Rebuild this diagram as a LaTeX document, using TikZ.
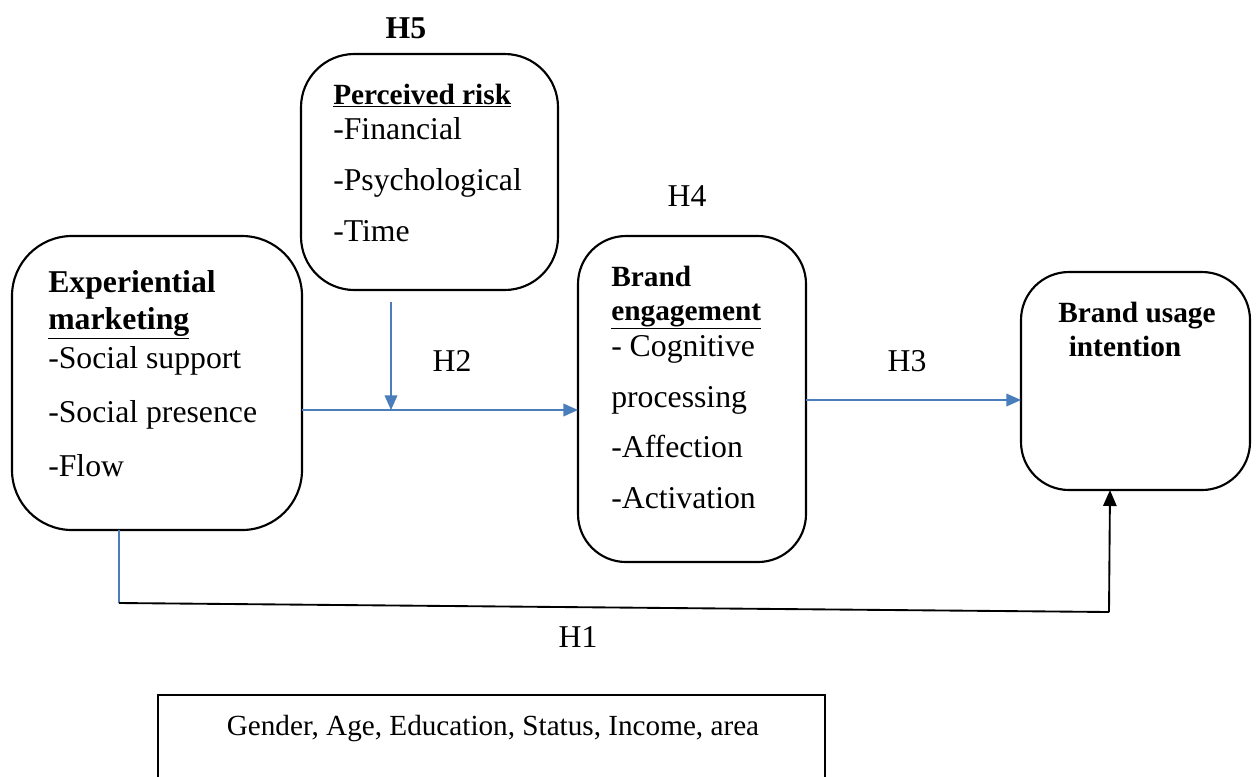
\documentclass[tikz,border=0pt]{standalone}
\usepackage{fontspec}
\setmainfont{Liberation Serif}
\usetikzlibrary{arrows.meta}
\definecolor{arrowblue}{HTML}{4A7EBB}
\tikzset{
  rbox/.style={draw=black, line width=1.6pt},
  txt/.style={anchor=base west, inner sep=0pt, font=\fontsize{23.8}{28}\selectfont},
  btxt/.style={anchor=base west, inner sep=0pt, font=\fontsize{23.8}{28}\selectfont\bfseries},
  sbtxt/.style={anchor=base west, inner sep=0pt, font=\fontsize{22}{26}\selectfont\bfseries},
  ctxt/.style={anchor=base, inner sep=0pt, font=\fontsize{23.8}{28}\selectfont},
  bctxt/.style={anchor=base, inner sep=0pt, font=\fontsize{23.8}{28}\selectfont\bfseries},
  sbctxt/.style={anchor=base, inner sep=0pt, font=\fontsize{22}{26}\selectfont\bfseries},
  smalltxt/.style={anchor=base, inner sep=0pt, font=\fontsize{21.9}{26}\selectfont},
  bluearrow/.style={draw=arrowblue, line width=1.2pt, -{Triangle[length=11pt,width=9.5pt]}},
  blueline/.style={draw=arrowblue, line width=1.2pt},
  blackline/.style={draw=black, line width=1.4pt},
  blackarrow/.style={draw=black, line width=1.4pt, -{Triangle[length=12pt,width=10pt]}}
}
\begin{document}
\begin{tikzpicture}[x=0.75pt, y=-0.75pt]
\useasboundingbox (0,0) rectangle (1256,776);
\begin{scope}
\clip (0,0) rectangle (1256,776);
% boxes
\draw[rbox, rounded corners=45] (12,236) rectangle (302,530);
\draw[rbox, rounded corners=40] (301,54) rectangle (558,290);
\draw[rbox, rounded corners=36] (578,236) rectangle (806,562);
\draw[rbox, rounded corners=36] (1021,272) rectangle (1250,490);
\draw[draw=black, line width=1.4pt] (158,800) -- (158,695) -- (825,695) -- (825,800);
\end{scope}
% connector end points
\coordinate (em) at (302,410);
\coordinate (be) at (578,410);
\coordinate (pr) at (391,302);
\coordinate (mid) at (391,410);
\coordinate (beR) at (806,400);
\coordinate (buL) at (1021,400);
\coordinate (emB) at (119,530);
\coordinate (c1) at (119,603);
\coordinate (c2) at (1109,612);
\coordinate (buB) at (1110,490);
% texts
\node[bctxt] (h5) at (406,38) {H5};
\node[sbtxt] (prt) at (333,104) {\underline{Perceived risk}};
\node[txt] (p1) at (333,139) {-Financial};
\node[txt] (p2) at (333,190) {-Psychological};
\node[txt] (p3) at (333,241) {-Time};
\node[ctxt] (h4) at (687,206) {H4};
\node[btxt] (e1) at (48,292) {Experiential};
\node[btxt] (e2) at (48,329) {\underline{marketing}};
\node[txt] (e3) at (48,368) {-Social support};
\node[txt] (e4) at (48,422) {-Social presence};
\node[txt] (e5) at (48,476) {-Flow};
\node[sbtxt] (b1) at (611,286) {Brand};
\node[sbtxt] (b2) at (611,320) {\underline{engagement}};
\node[txt] (b3) at (611,356) {- Cognitive};
\node[txt] (b4) at (611,407) {processing};
\node[txt] (b5) at (611,457) {-Affection};
\node[txt] (b6) at (611,508) {-Activation};
\node[sbctxt] (u1) at (1137,322) {Brand usage};
\node[sbctxt] (u2) at (1125,356) {intention};
\node[ctxt] (h2) at (452,371) {H2};
\node[ctxt] (h3) at (907,371) {H3};
\node[ctxt] (h1) at (578,647) {H1};
\node[smalltxt] (ctrl) at (493,735) {Gender, Age, Education, Status, Income, area};
% connectors
\draw[bluearrow] (em) -- (be);
\draw[bluearrow] (pr) -- (mid);
\draw[bluearrow] (beR) -- (buL);
\draw[blueline] (emB) -- (c1);
\draw[blackline] (c1) -- (c2);
\draw[blackarrow] (c2) -- (buB);
\end{tikzpicture}
\end{document}
